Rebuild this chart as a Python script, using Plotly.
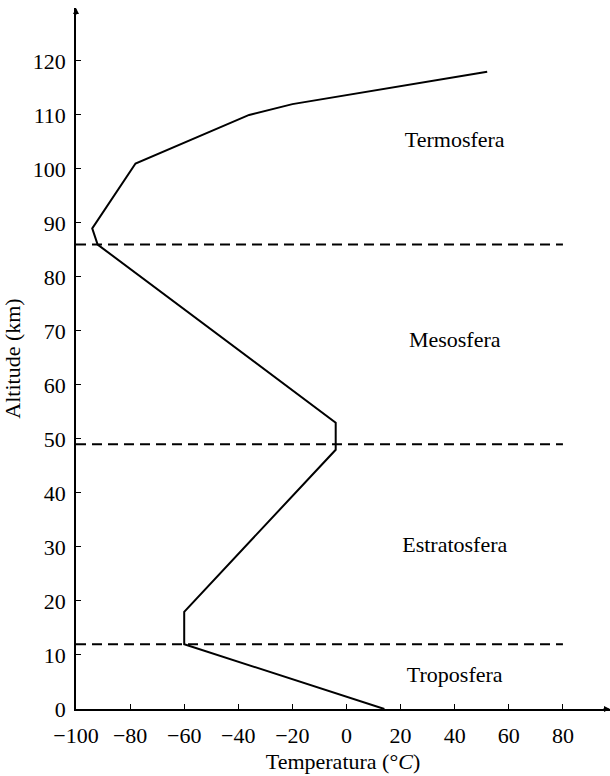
import plotly.graph_objects as go

# Data
temperature = [14, -60, -60, -4, -4, -92, -94, -78, -36, -20, 52]
altitude = [0, 12, 18, 48, 53, 86, 89, 101, 110, 112, 118]
boundaries = [12, 49, 86]
boundary_x = [-100, 80]
layer_names = ["Troposfera", "Estratosfera", "Mesosfera", "Termosfera"]
layer_label_x = [40, 40, 40, 40]
layer_label_y = [6, 30, 68, 105]
x_ticks = [-100, -80, -60, -40, -20, 0, 20, 40, 60, 80]
y_ticks = list(range(0, 121, 10))

FONT = "Liberation Serif"
FS = 22

fig = go.Figure()

for b in boundaries:
    fig.add_trace(go.Scatter(x=boundary_x, y=[b, b], mode="lines",
                             line=dict(color="black", width=2, dash="10px,6px"),
                             showlegend=False, hoverinfo="skip"))

fig.add_trace(go.Scatter(x=temperature, y=altitude, mode="lines",
                         line=dict(color="black", width=2),
                         showlegend=False))

fig.add_trace(go.Scatter(x=layer_label_x, y=layer_label_y, mode="text",
                         text=layer_names, textposition="middle center",
                         textfont=dict(family=FONT, size=FS, color="black"),
                         showlegend=False, hoverinfo="skip"))

x_max = 97.4
y_max = 129.8

def fmt(v):
    return ("\u2212" + str(abs(v))) if v < 0 else str(v)

fig.update_xaxes(range=[-100, x_max], tickvals=x_ticks,
                 ticktext=[fmt(v) for v in x_ticks],
                 showgrid=False, zeroline=False, showline=True,
                 linecolor="black", linewidth=1.5,
                 ticks="inside", ticklen=5, tickwidth=1, tickcolor="black",
                 ticklabelstandoff=6,
                 tickfont=dict(family=FONT, size=FS, color="black"),
                 title=dict(text="Temperatura (°<i>C</i>)",
                            font=dict(family=FONT, size=FS, color="black"),
                            standoff=6))
fig.update_yaxes(range=[0, y_max], tickvals=y_ticks,
                 showgrid=False, zeroline=False, showline=True,
                 linecolor="black", linewidth=1.5,
                 ticks="inside", ticklen=5, tickwidth=1, tickcolor="black",
                 ticklabelstandoff=4,
                 tickfont=dict(family=FONT, size=FS, color="black"),
                 title=dict(text="Altitude (km)",
                            font=dict(family=FONT, size=FS, color="black"),
                            standoff=8))

# axis arrows
fig.add_annotation(x=x_max, y=0, xref="x", yref="y", ax=-8, ay=0,
                   axref="pixel", ayref="pixel", showarrow=True,
                   arrowhead=2, arrowsize=0.8, arrowwidth=1.5, arrowcolor="black", text="")
fig.add_annotation(x=-100, y=y_max, xref="x", yref="y", ax=0, ay=8,
                   axref="pixel", ayref="pixel", showarrow=True,
                   arrowhead=2, arrowsize=0.8, arrowwidth=1.5, arrowcolor="black", text="")

fig.update_layout(width=610, height=776,
                  margin=dict(l=76, r=0, t=8, b=67),
                  plot_bgcolor="white", paper_bgcolor="white",
                  font=dict(family=FONT, color="black"))

fig.write_html("out.html")
